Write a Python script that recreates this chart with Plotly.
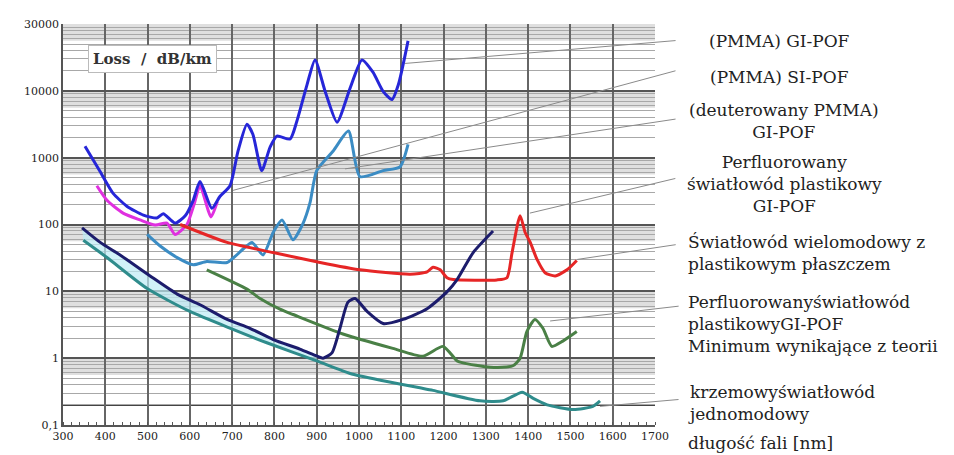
import math
import plotly.graph_objects as go

# ---------------- data ----------------
wl_si = [352, 387, 418, 451, 490, 522, 537, 565, 589, 608, 624, 652, 671, 695, 714, 735, 749, 770,
         790, 806, 837, 853, 877, 896, 920, 948, 979, 1007, 1033, 1057, 1078, 1093, 1116]
loss_si = [1480, 630, 295, 188, 138, 125, 145, 105, 135, 230, 440, 175, 262, 380, 1260, 3160, 2240, 640,
           1450, 2100, 1900, 3500, 12300, 29000, 9800, 3400, 11000, 29000, 19000, 9800, 7400, 12300, 56000]

wl_gi = [380, 404, 442, 482, 518, 546, 565, 593, 610, 624, 650, 665]
loss_gi = [380, 230, 148, 117, 98, 105, 71, 100, 200, 380, 130, 220]

wl_deut = [499, 529, 570, 608, 640, 688, 726, 747, 773, 797, 818, 844, 868, 884, 900, 939, 975,
           1002, 1057, 1097, 1116]
loss_deut = [71, 48, 32, 25, 28, 27, 43, 54, 35, 76, 117, 59, 105, 210, 640, 1260, 2500,
             520, 640, 730, 1580]

wl_pf = [577, 688, 797, 908, 1002, 1121, 1161, 1175, 1192, 1208, 1223, 1326, 1350, 1362, 1381,
         1393, 1405, 1421, 1440, 1464, 1492, 1515]
loss_pf = [100, 54, 38, 27, 21, 18, 19.5, 23, 21, 16, 15, 14.8, 16, 38, 135,
           76, 54, 30, 19, 17, 21, 29]

wl_pcs = [345, 388, 435, 506, 570, 624, 688, 742, 797, 860, 900, 915, 936, 955, 974, 991, 1019,
          1057, 1104, 1161, 1208, 1232, 1270, 1317]
loss_pcs = [89, 54, 35, 17, 9.1, 6.3, 3.8, 2.8, 1.9, 1.37, 1.08, 1.0, 1.2, 2.8, 6.9, 7.8, 5.0,
            3.3, 3.8, 5.5, 9.8, 15, 38, 80]

wl_theory = [640, 735, 766, 813, 844, 962, 1080, 1151, 1199, 1232, 1246, 1310, 1364, 1381, 1397,
             1416, 1435, 1456, 1482, 1515]
loss_theory = [21, 10.8, 7.8, 5.4, 4.5, 2.3, 1.4, 1.07, 1.5, 0.91, 0.85, 0.73, 0.77, 1.0, 2.5,
               3.8, 2.8, 1.5, 1.8, 2.5]

wl_smf = [348, 404, 499, 600, 702, 782, 900, 979, 1057, 1144, 1175, 1286, 1341, 1386, 1412, 1445,
          1507, 1553, 1570]
loss_smf = [58, 32, 11, 5.0, 2.7, 1.7, 0.91, 0.59, 0.46, 0.36, 0.33, 0.23, 0.23, 0.31, 0.25, 0.20,
            0.17, 0.19, 0.23]

y_tickvals = [0.1, 1, 10, 100, 1000, 10000, 100000]
y_ticktext = ["0,1", "1", "10", "100", "1000", "10000", "30000"]
x_tickvals = list(range(300, 1800, 100))

labels = [
    "(PMMA) GI-POF",
    "(PMMA) SI-POF",
    "(deuterowany PMMA)<br>GI-POF",
    "Perfluorowany<br>światłowód plastikowy<br>GI-POF",
    "Światłowód wielomodowy z<br>plastikowym płaszczem",
    "Perfluorowanyświatłowód<br>plastikowyGI-POF<br>Minimum wynikające z teorii",
    "krzemowyświatłowód<br>jednomodowy",
]
axis_title = "długość fali [nm]"
box_title = "Loss  /  dB/km"

# ---------------- figure ----------------
fig = go.Figure()

# light cyan band between multimode and single-mode silica curves
cut_pcs = [i for i, w in enumerate(wl_pcs) if w <= 900]
cut_smf = [i for i, w in enumerate(wl_smf) if w <= 900]
fig.add_trace(go.Scatter(x=[wl_pcs[i] for i in cut_pcs], y=[loss_pcs[i] for i in cut_pcs],
                         mode="lines", line=dict(width=0, color="rgba(0,0,0,0)"),
                         hoverinfo="skip", showlegend=False))
fig.add_trace(go.Scatter(x=[wl_smf[i] for i in cut_smf], y=[loss_smf[i] for i in cut_smf],
                         mode="lines", line=dict(width=0, color="rgba(0,0,0,0)"),
                         fill="tonexty", fillcolor="rgba(190,235,245,0.7)",
                         hoverinfo="skip", showlegend=False))

series = [
    (wl_gi, loss_gi, "#e030e0"),
    (wl_si, loss_si, "#2626d8"),
    (wl_deut, loss_deut, "#3b8cc4"),
    (wl_pf, loss_pf, "#e62626"),
    (wl_theory, loss_theory, "#4a8046"),
    (wl_smf, loss_smf, "#2f8c8c"),
    (wl_pcs, loss_pcs, "#1c1c6c"),
]
for xs, ys, col in series:
    fig.add_trace(go.Scatter(x=xs, y=ys, mode="lines",
                             line=dict(color=col, width=3, shape="spline", smoothing=0.6),
                             showlegend=False, hoverinfo="skip"))

# gray bands below each decade line
shapes = []
for v in y_tickvals[1:]:
    shapes.append(dict(type="rect", xref="paper", x0=0, x1=1, yref="y", y0=v * 0.56, y1=v,
                       fillcolor="#d2d2d2", opacity=0.7, line=dict(width=0), layer="below"))
shapes.append(dict(type="line", xref="paper", x0=0, x1=1, yref="y", y0=0.2, y1=0.2,
                   line=dict(color="#444", width=2), layer="below"))

minor_vals = [k * v for v in y_tickvals[:-1] for k in range(2, 10)]

FONT = "DejaVu Serif, Liberation Serif, serif"

annotations = []
centered = [(labels[0], 1.211, 0.958), (labels[1], 1.211, 0.867),
            (labels[2], 1.218, 0.757), (labels[3], 1.218, 0.602)]
for t, x, y in centered:
    annotations.append(dict(text=t, xref="paper", yref="paper", x=x, y=y, showarrow=False,
                            xanchor="center", yanchor="middle", align="center",
                            font=dict(family=FONT, size=17, color="#222")))
left = [(labels[4], 1.053, 0.430), (labels[5], 1.053, 0.253), (labels[6], 1.053, 0.054),
        (axis_title, 1.053, -0.044)]
for t, x, y in left:
    annotations.append(dict(text=t, xref="paper", yref="paper", x=x, y=y, showarrow=False,
                            xanchor="left", yanchor="middle", align="left",
                            font=dict(family=FONT, size=17, color="#222")))

# leader lines (point on curve, pixel offset to label)
leaders = [(1109, 25700, 272, -23), (702, 324, 444, -120), (967, 680, 332, -50),
           (1404, 148, 147, -35), (1516, 30, 100, -15), (1452, 3.6, 130, -15), (1570, 0.19, 80, -7)]
for x, y, ax, ay in leaders:
    annotations.append(dict(x=x, y=math.log10(y), xref="x", yref="y", text="", showarrow=True,
                            arrowhead=0, arrowwidth=1, arrowcolor="#8a8a8a", ax=ax, ay=ay,
                            standoff=0, startstandoff=0))

annotations.append(dict(text="<b>" + box_title + "</b>", xref="paper", yref="paper", x=0.043, y=0.912,
                        xanchor="left", yanchor="middle", showarrow=False,
                        bgcolor="white", bordercolor="#bbb", borderwidth=1, borderpad=4,
                        font=dict(family=FONT, size=15, color="#333")))

# page body has an 8px margin: figure placed at (8,8)
fig.update_layout(
    width=946, height=447,
    margin=dict(l=55, r=299, t=10, b=30),
    paper_bgcolor="white", plot_bgcolor="white",
    shapes=shapes, annotations=annotations,
    xaxis=dict(range=[300, 1700], tickvals=x_tickvals, showgrid=True, gridcolor="#666", gridwidth=1.5,
               showline=True, linecolor="#555", linewidth=1.5, zeroline=False,
               ticks="", tickfont=dict(family=FONT, size=11, color="#222"),
               minor=dict(dtick=20, ticks="inside", ticklen=3, tickcolor="#555", showgrid=False)),
    yaxis=dict(type="log", range=[-1, 5], tickvals=y_tickvals, ticktext=y_ticktext,
               showgrid=True, gridcolor="#555", gridwidth=1.5,
               showline=True, linecolor="#555", linewidth=1.5, zeroline=False,
               ticks="", tickfont=dict(family=FONT, size=11, color="#222"),
               minor=dict(tickvals=minor_vals, showgrid=True, gridcolor="#a8a8a8", gridwidth=1)),
)

fig.write_html("out.html")
